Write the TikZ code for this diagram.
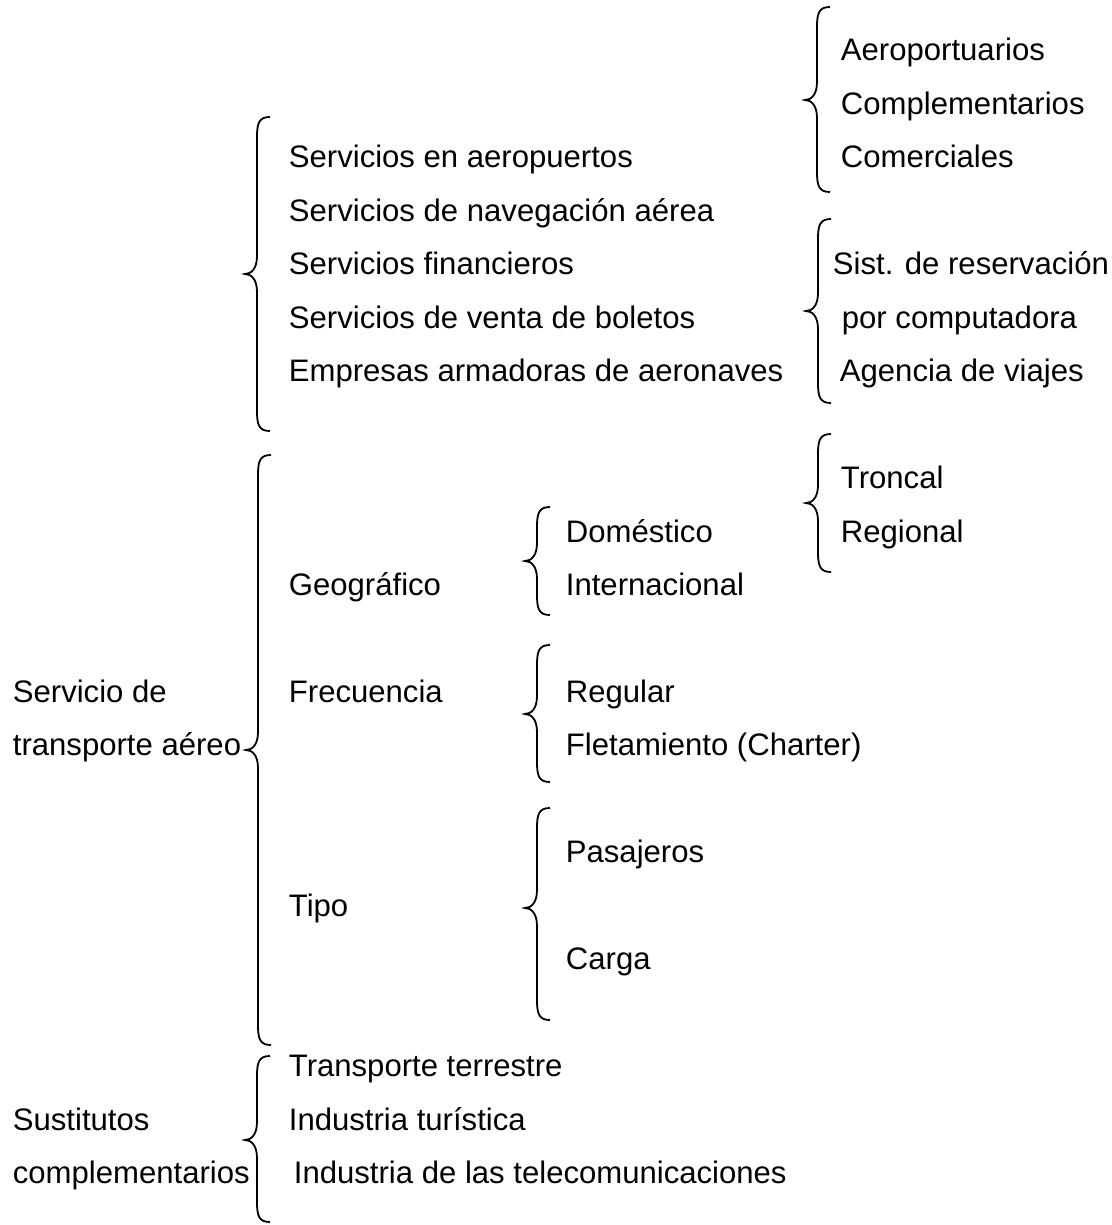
\documentclass[tikz,border=0pt]{standalone}
\usepackage{fontspec}
\setmainfont{Liberation Sans}
\usepackage{tikz}
% curly brace: tip x, top y, tip y, bottom y
\newcommand{\llave}[4]{%
  \draw ({#1+25},#2) .. controls ({#1+14},#2) and ({#1+12},{#2+6}) .. ({#1+12},{#2+20})
    -- ({#1+12},{#3-18}) .. controls ({#1+12},{#3-5}) and ({#1+6},#3) .. (#1,#3)
    .. controls ({#1+6},#3) and ({#1+12},{#3+5}) .. ({#1+12},{#3+18})
    -- ({#1+12},{#4-20}) .. controls ({#1+12},{#4-6}) and ({#1+14},#4) .. ({#1+25},#4);}

\begin{document}
\begin{tikzpicture}[x=0.5pt,y=-0.5pt,line width=0.9pt,
  every node/.style={anchor=base west,inner sep=0pt,font=\fontsize{15.55}{18}\selectfont}]
\useasboundingbox (0,0) rectangle (1112,1225);
% top block
\node (aeroport) at (840,61) {Aeroportuarios};
\node (complem) at (840,114.5) {Complementarios};
\node (comerc) at (840,168) {Comerciales};
\node (servaero) at (288,168) {Servicios en aeropuertos};
\node (navega) at (288,221.4) {Servicios de navegación aérea};
\node (financ) at (288,274.8) {Servicios financieros};
\node (venta) at (288,328.3) {Servicios de venta de boletos};
\node (armad) at (288,381.7) {Empresas armadoras de aeronaves};
\node (sistres) at (832,274.8) {Sist. de reservación};
\node (porcomp) at (841,328.3) {por computadora};
\node (agencia) at (839,381.7) {Agencia de viajes};
% middle block
\node (troncal) at (840,488.6) {Troncal};
\node (regional) at (840,542) {Regional};
\node (domest) at (565,542) {Doméstico};
\node (internac) at (565,595.5) {Internacional};
\node (geog) at (288,595.5) {Geográfico};
\node (servicio) at (12,702.4) {Servicio de};
\node (transp) at (12,755.9) {transporte aéreo};
\node (frecuen) at (288,702.4) {Frecuencia};
\node (regular) at (565,702.4) {Regular};
\node (fletam) at (565,755.9) {Fletamiento (Charter)};
\node (pasaj) at (565,862.8) {Pasajeros};
\node (tipo) at (288,916.2) {Tipo};
\node (carga) at (565,969.7) {Carga};
% bottom block
\node (terrestre) at (288,1076.6) {Transporte terrestre};
\node (sustit) at (12,1130) {Sustitutos};
\node (turist) at (288,1130) {Industria turística};
\node (complem2) at (12,1183.5) {complementarios};
\node (telecom) at (293,1183.5) {Industria de las telecomunicaciones};
% braces
\llave{245}{117}{274}{431}
\llave{805}{7}{100}{192}
\llave{806}{219}{311}{403}
\llave{246}{455}{750}{1045}
\llave{245}{1056}{1140}{1222}
\llave{806}{434}{503}{572}
\llave{525}{507}{561}{615}
\llave{525}{645}{714}{782}
\llave{525}{808}{908}{1020}
\end{tikzpicture}
\end{document}
